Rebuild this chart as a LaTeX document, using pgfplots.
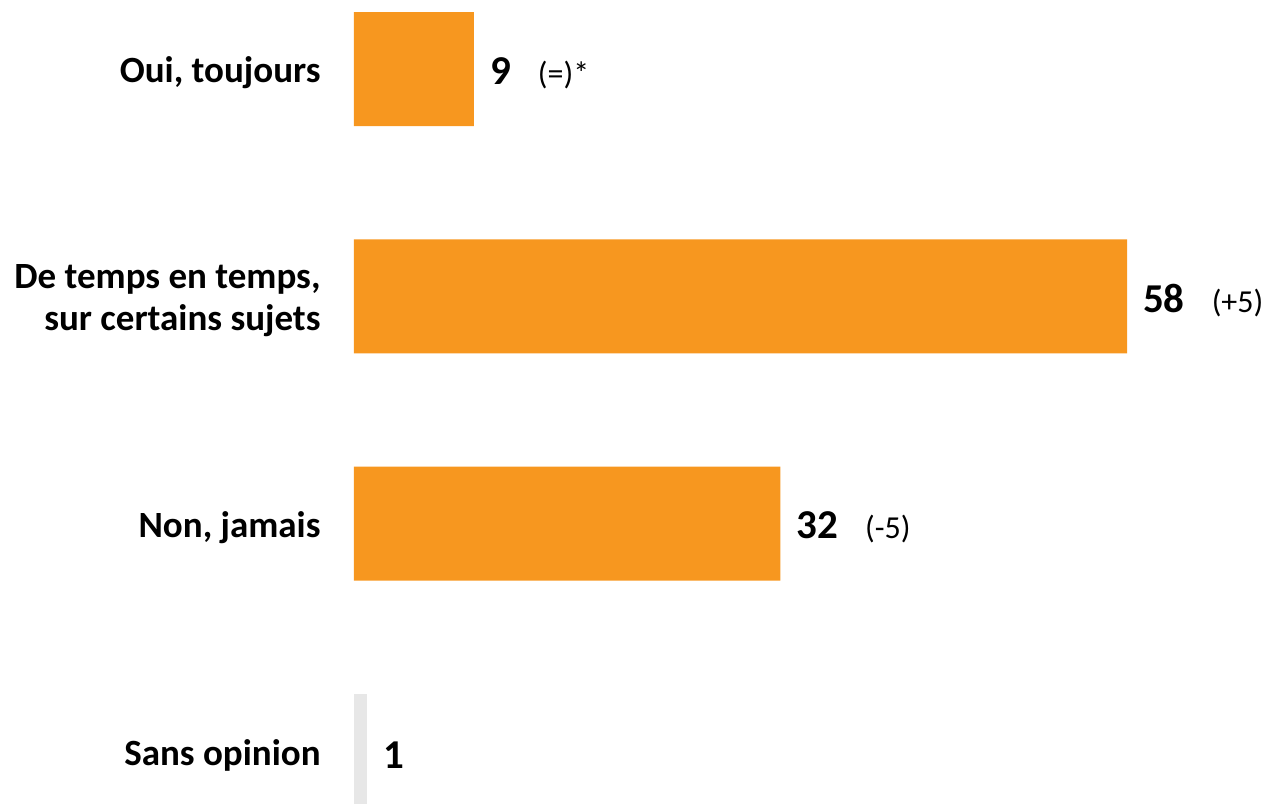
\documentclass[border=0pt]{standalone}
\usepackage{fontspec}
\setmainfont{Carlito}
\usepackage{pgfplots}
\pgfplotsset{compat=1.18}
\definecolor{barorange}{HTML}{F7971F}
\definecolor{bargrey}{HTML}{E7E7E7}
\newcommand{\val}[2]{{\fontsize{41}{44}\selectfont\bfseries #1}\hspace{27pt}{\fontsize{32}{34}\selectfont #2}}
\begin{document}
\begin{tikzpicture}
\begin{axis}[
  xbar, bar width=114pt, bar shift=0pt,
  width=1266pt, height=803pt, scale only axis,
  xmin=-26.56, xmax=68.43,
  ymin=-0.3036, ymax=3.229, y dir=reverse,
  axis line style={draw=none}, tick style={draw=none},
  xtick=\empty,
  ytick={0,1,2,3},
  yticklabels={{Oui, toujours},{De temps en temps,\\sur certains sujets},{Non, jamais},{Sans opinion}},
  yticklabel style={anchor=east, inner sep=0pt, xshift=325pt, yshift=-4pt, align=right,
    font=\fontsize{37}{42}\selectfont\bfseries},
  point meta=explicit symbolic,
  nodes near coords={\pgfplotspointmeta},
  every node near coord/.append style={anchor=west, inner sep=0pt, xshift=16pt, yshift=-4pt},
]
\addplot[fill=barorange, draw=none] coordinates {
  (9,0)  [\val{9}{(=)*}]
  (58,1) [\val{58}{(+5)}]
  (32,2) [\val{32}{(-5)}]
};
\addplot[fill=bargrey, draw=none] coordinates {
  (1,3) [\val{1}{}]
};
\end{axis}
\pgfresetboundingbox
\useasboundingbox (current axis.south west) rectangle (current axis.north east);
\end{tikzpicture}
\end{document}
